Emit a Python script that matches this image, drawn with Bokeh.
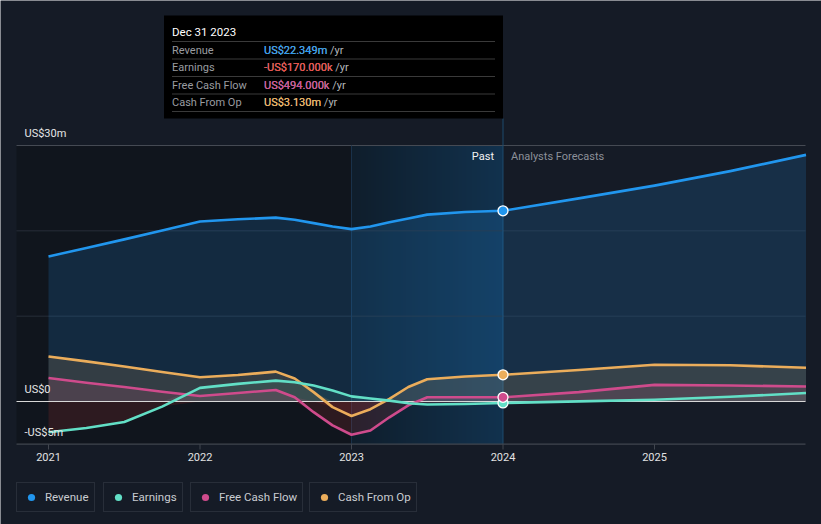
import numpy as np
from bokeh.plotting import figure
from bokeh.models import Range1d, Legend, LegendItem
from bokeh.core.properties import value
from bokeh.embed import file_html
from bokeh.resources import INLINE

# ---------------- data ----------------
dates = [2021.0, 2021.25, 2021.5, 2021.75, 2022.0, 2022.25, 2022.5, 2022.625, 2022.75, 2022.875,
         2023.0, 2023.125, 2023.25, 2023.375, 2023.5, 2023.75, 2024.0, 2024.5, 2025.0, 2025.5, 2026.0]
revenue = [17.0, 18.0, 19.0, 20.05, 21.1, 21.35, 21.55, 21.3, 20.9, 20.5,
           20.2, 20.5, 21.0, 21.45, 21.9, 22.2, 22.349, 23.8, 25.3, 27.0, 28.9]
earnings = [-3.6, -3.1, -2.4, -0.6, 1.6, 2.07, 2.45, 2.25, 1.87, 1.3,
            0.6, 0.35, 0.1, -0.2, -0.35, -0.3, -0.17, 0.02, 0.2, 0.55, 1.0]
free_cash_flow = [2.75, 2.2, 1.7, 1.15, 0.65, 1.0, 1.35, 0.5, -1.25, -2.8,
                  -3.9, -3.4, -1.85, -0.45, 0.5, 0.5, 0.494, 1.1, 1.95, 1.88, 1.75]
cash_from_op = [5.27, 4.7, 4.1, 3.45, 2.85, 3.1, 3.5, 2.7, 1.1, -0.66,
                -1.7, -0.9, 0.3, 1.7, 2.6, 2.93, 3.13, 3.7, 4.3, 4.25, 3.95]

series_names = ["Revenue", "Earnings", "Free Cash Flow", "Cash From Op"]
series_colors = ["#2196ee", "#62dfc6", "#cf4b8c", "#ebad5b"]

x_ticks = [2021, 2022, 2023, 2024, 2025]
x_tick_labels = ["2021", "2022", "2023", "2024", "2025"]
y_ticks = [30, 0, -5]
y_tick_labels = ["US$30m", "US$0", "-US$5m"]
grid_values = [10, 20]

past_start = 2023.0
tooltip_date = 2024.0
tooltip_title = "Dec 31 2023"
tooltip_values = ["US$22.349m", "-US$170.000k", "US$494.000k", "US$3.130m"]
tooltip_colors = ["#1f9bf2", "#f0443c", "#d24b96", "#f0b255"]

# ---------------- style / layout ----------------
BG = "#151b26"
FONT = value("Roboto")
PX_PER_YEAR = 151.5
PX_PER_M = 256 / 30.0


def X(px):  # window pixel -> x data
    return 2021 + (px - 48) / PX_PER_YEAR


def Y(py):  # window pixel -> y data
    return (401 - py) / PX_PER_M


W, H = 821, 524
left_edge, right_edge = X(16), X(805)
top_band = y_ticks[0]
bottom_band = y_ticks[-1]

p = figure(width=W, height=H, x_range=Range1d(X(0), X(W)), y_range=Range1d(Y(H), Y(0)),
           output_backend="svg", toolbar_location=None, y_axis_location=None, x_axis_location=None,
           min_border_left=0, min_border_right=0, min_border_top=0, min_border_bottom=0,
           background_fill_color=BG, border_fill_color=BG, outline_line_color=None)
p.xgrid.visible = False
p.ygrid.visible = False

# darker history region
p.quad(left=[left_edge], right=[past_start], bottom=[bottom_band], top=[top_band],
       fill_color="#000000", fill_alpha=0.22, line_color=None)

# blue gradient for the last past year
N = 96
img = np.zeros((1, N), dtype=np.uint32)
view = img.view(dtype=np.uint8).reshape((1, N, 4))
c_a = np.array([15, 30, 44], dtype=float)
c_b = np.array([18, 50, 78], dtype=float)
for i in range(N):
    f = i / (N - 1)
    col = c_a + (c_b - c_a) * f
    view[0, i, 0:3] = col.astype(np.uint8)
    view[0, i, 3] = 255
p.image_rgba(image=[img], x=past_start, y=bottom_band, dw=tooltip_date - past_start,
             dh=top_band - bottom_band)

# grid lines
ng = len(grid_values)
p.segment(x0=[left_edge] * ng, y0=grid_values, x1=[right_edge] * ng, y1=grid_values,
          line_color="#272e39", line_width=1)
p.segment(x0=[left_edge], y0=[top_band], x1=[right_edge], y1=[top_band],
          line_color="#454a53", line_width=1)

# vertical markers
p.segment(x0=[past_start], y0=[bottom_band], x1=[past_start], y1=[top_band],
          line_color="#19314a", line_width=1)
p.segment(x0=[tooltip_date], y0=[bottom_band], x1=[tooltip_date], y1=[Y(118)],
          line_color="#1d4a6d", line_width=1)

# areas
series = [revenue, earnings, free_cash_flow, cash_from_op]
alphas = [0.17, 0.10, 0.15, 0.15]
for vals, col, a in zip(series, series_colors, alphas):
    arr = np.array(vals)
    p.varea(x=dates, y1=0, y2=np.maximum(arr, 0), fill_color=col, fill_alpha=a)
    if (arr < 0).any():
        p.varea(x=dates, y1=0, y2=np.minimum(arr, 0), fill_color="#e03a3a", fill_alpha=0.14)

# zero line and x axis line
p.segment(x0=[left_edge], y0=[0], x1=[right_edge], y1=[0], line_color="#d8d8d8", line_width=1.2)
p.segment(x0=[left_edge], y0=[bottom_band], x1=[right_edge], y1=[bottom_band],
          line_color="#41464f", line_width=1.2)

# x ticks and labels
p.segment(x0=x_ticks, y0=[bottom_band] * len(x_ticks), x1=x_ticks, y1=[Y(449)] * len(x_ticks),
          line_color="#41464f", line_width=1)
p.text(x=x_ticks, y=[bottom_band] * len(x_ticks), text=x_tick_labels, y_offset=13,
       text_align="center", text_baseline="middle", text_color="#e2e2e2",
       text_font_size="11px", text_font=FONT)

# lines
for vals, col in zip([cash_from_op, free_cash_flow, earnings, revenue],
                     [series_colors[3], series_colors[2], series_colors[1], series_colors[0]]):
    p.line(dates, vals, line_color=col, line_width=2.6, line_join="round")

# markers at tooltip date (plain dots double as legend glyphs)
idx = dates.index(tooltip_date)
legend_renderers = []
for vals, col in zip(series, series_colors):
    legend_renderers.append(p.scatter(x=[tooltip_date], y=[vals[idx]], size=8,
                                      fill_color=col, line_color=None))
p.scatter(x=[tooltip_date] * 4, y=[s[idx] for s in series],
          fill_color=series_colors, line_color="#ffffff", line_width=1.3, size=10)

# y labels
p.text(x=[left_edge] * len(y_ticks), y=y_ticks, text=y_tick_labels, x_offset=8, y_offset=-12,
       text_baseline="alphabetic", text_align="left", text_color="#e6e6e6",
       text_font_size="11px", text_font=FONT)

# Past / forecast labels
p.text(x=[tooltip_date], y=[top_band], text=["Past"], x_offset=-9, y_offset=11,
       text_align="right", text_baseline="middle", text_color="#f2f2f2",
       text_font_size="11px", text_font=FONT)
p.text(x=[tooltip_date], y=[top_band], text=["Analysts Forecasts"], x_offset=8, y_offset=11,
       text_align="left", text_baseline="middle", text_color="#8c9099",
       text_font_size="11px", text_font=FONT)

# ---------------- tooltip ----------------
tip_right = tooltip_date
tip_left = tip_right - (502 - 163) / PX_PER_YEAR
p.quad(left=[tip_left], right=[tip_right], bottom=[Y(118)], top=[Y(15)],
       fill_color="#000000", line_color=None)
sep_y = [Y(v) for v in (41, 58.5, 76, 93.5, 111)]
lx = tip_left + 8 / PX_PER_YEAR
rx = tip_right - 8 / PX_PER_YEAR
p.segment(x0=[lx] * 5, y0=sep_y, x1=[rx] * 5, y1=sep_y, line_color="#3a3a3a", line_width=1)
p.text(x=[lx], y=[Y(31)], text=[tooltip_title], text_baseline="middle",
       text_color="#ffffff", text_font_size="11.5px", text_font=FONT)
row_y = [Y(v) for v in (49.5, 67, 84.5, 102)]
p.text(x=[lx] * 4, y=row_y, text=series_names, text_baseline="middle",
       text_color="#9a9ca0", text_font_size="11px", text_font=FONT)
vx = tip_left + (263 - 163) / PX_PER_YEAR
p.text(x=[vx] * 4, y=row_y, text=[v + " /yr" for v in tooltip_values], text_baseline="middle",
       text_color="#b4b6ba", text_font_size="11px", text_font=FONT)
p.text(x=[vx] * 4, y=row_y, text=tooltip_values, text_baseline="middle",
       text_color=tooltip_colors, text_font_size="11px", text_font=FONT)

# ---------------- legends ----------------
legend_x = [16, 103, 190, 309]
for name, r, lx_ in zip(series_names, legend_renderers, legend_x):
    lg = Legend(items=[LegendItem(label=name, renderers=[r])], location=(lx_, 12),
                orientation="horizontal", margin=0, padding=5, spacing=0,
                glyph_width=18, glyph_height=18, label_standoff=5, label_height=18,
                background_fill_color=BG, background_fill_alpha=1.0,
                border_line_color="#3c424c", border_line_width=1,
                label_text_color="#c9ccd1", label_text_font="Roboto",
                label_text_font_size="11.5px")
    p.add_layout(lg, "center")

html = file_html(p, INLINE)
html = html.replace("<body>", '<body style="background-color:%s;">' % BG, 1)
open("out.html", "w").write(html)
